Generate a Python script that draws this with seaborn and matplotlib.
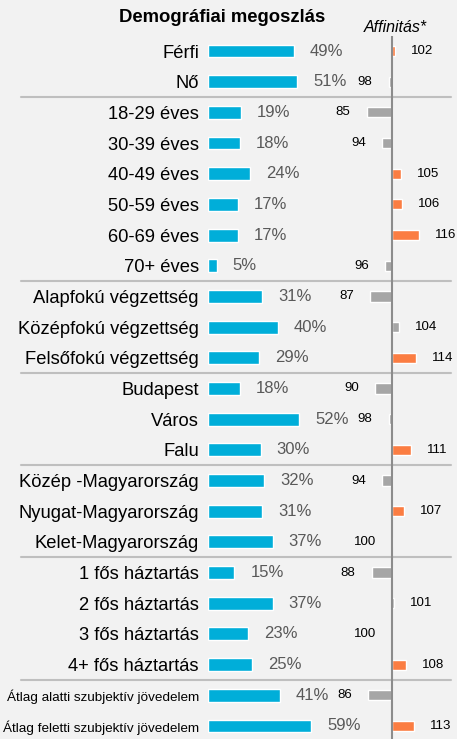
import pandas as pd
import matplotlib.pyplot as plt
import matplotlib.transforms as mtransforms
import seaborn as sns

# --- DATA ---
categories = [
    'Férfi', 'Nő',
    '18-29 éves', '30-39 éves', '40-49 éves', '50-59 éves', '60-69 éves', '70+ éves',
    'Alapfokú végzettség', 'Középfokú végzettség', 'Felsőfokú végzettség',
    'Budapest', 'Város', 'Falu',
    'Közép -Magyarország', 'Nyugat-Magyarország', 'Kelet-Magyarország',
    '1 fős háztartás', '2 fős háztartás', '3 fős háztartás', '4+ fős háztartás',
    'Átlag alatti szubjektív jövedelem', 'Átlag feletti szubjektív jövedelem',
]
share_pct = [49, 51, 19, 18, 24, 17, 17, 5, 31, 40, 29, 18, 52, 30,
             32, 31, 37, 15, 37, 23, 25, 41, 59]
affinity = [102, 98, 85, 94, 105, 106, 116, 96, 87, 104, 114, 90, 98, 111,
            94, 107, 100, 88, 101, 100, 108, 86, 113]
# highlighted (orange) affinity bars
highlight = [True, False, False, False, True, True, True, False, False, False, True,
             False, False, True, False, True, False, False, False, False, True,
             False, True]
# group separators sit after these row indices
group_ends = [1, 7, 10, 13, 16, 20]

BLUE = '#00aed9'
ORANGE = '#fb7d42'
GREY_BAR = '#a6a6a6'
BG = '#f2f2f2'

df = pd.DataFrame({'cat': categories, 'pct': share_pct, 'aff': affinity})
df['dev'] = df['aff'] - 100
aff_colors = [ORANGE if h else GREY_BAR for h in highlight]

sns.set_theme(style='white')
plt.rcParams['font.family'] = ['Liberation Sans', 'DejaVu Sans']

W, H = 457, 739
fig = plt.figure(figsize=(W / 100, H / 100), dpi=100, facecolor=BG)

# row layout in pixels (top of figure = 0)
row0, row_step = 51, 30.68
n = len(categories)
top_px = row0 - row_step / 2
bot_px = row0 + (n - 1) * row_step + row_step / 2

def ax_rect(left_px, right_px):
    return [left_px / W, 1 - bot_px / H, (right_px - left_px) / W, (bot_px - top_px) / H]

# --- share bars ---
PX_PER_PCT = 1.75
ax1 = fig.add_axes(ax_rect(208, 457))
sns.barplot(data=df, y='cat', x='pct', orient='h', color=BLUE, width=0.42,
            saturation=1, ax=ax1)
ax1.set_xlim(0, (457 - 208) / PX_PER_PCT)
ax1.set_ylim(n - 0.5, -0.5)
for i, v in enumerate(share_pct):
    ax1.annotate(f'{v}%', xy=(v, i), xytext=(16, 0), textcoords='offset pixels',
                 ha='left', va='center', fontsize=12, color='#595959')

# --- affinity bars (deviation from 100) ---
PX_PER_AFF = 1.7
center_px = 392
ax2 = fig.add_axes(ax_rect(300, 457))
sns.barplot(data=df, y='cat', x='dev', orient='h', hue='cat', palette=aff_colors,
            width=0.33, saturation=1, legend=False, ax=ax2)
ax2.set_xlim(-(center_px - 300) / PX_PER_AFF, (457 - center_px) / PX_PER_AFF)
ax2.set_ylim(n - 0.5, -0.5)
ax2.axvline(0, color='#8c8c8c', linewidth=1.5)
for i, (a, d) in enumerate(zip(affinity, df['dev'])):
    if a > 100:
        ax2.annotate(str(a), xy=(d, i), xytext=(16, 0), textcoords='offset pixels',
                     ha='left', va='center', fontsize=9.5, color='black')
    else:
        ax2.annotate(str(a), xy=(d, i), xytext=(-16, 0), textcoords='offset pixels',
                     ha='right', va='center', fontsize=9.5, color='black')

for ax in (ax1, ax2):
    ax.set_facecolor('none')
    ax.set_xlabel('')
    ax.set_ylabel('')
    ax.set_xticks([])
    sns.despine(ax=ax, left=True, bottom=True)

ax2.set_yticks([])
ax1.tick_params(axis='y', length=0, pad=6.5, labelsize=13.2, labelcolor='black')
for lbl in ax1.get_yticklabels()[-2:]:
    lbl.set_fontsize(9.7)

# group separators across the full width
trans = mtransforms.blended_transform_factory(fig.transFigure, ax1.transData)
for g in group_ends:
    ax1.plot([21 / W, 451 / W], [g + 0.5, g + 0.5], transform=trans,
             color='#bfbfbf', linewidth=1.5, clip_on=False)

fig.text(222 / W, 1 - 17 / H, 'Demográfiai megoszlás', ha='center', va='center',
         fontsize=13.3, fontweight='bold', color='black')
fig.text(395 / W, 1 - 28 / H, 'Affinitás*', ha='center', va='center',
         fontsize=11.5, fontstyle='italic', color='black')

fig.savefig('out.png', dpi=100, facecolor=BG)
